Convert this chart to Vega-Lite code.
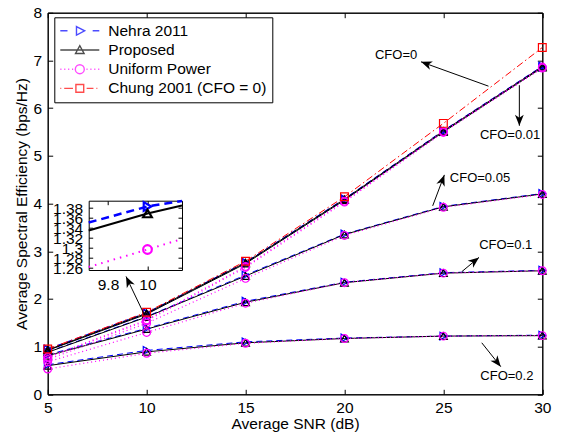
{
  "$schema": "https://vega.github.io/schema/vega-lite/v6.json",
  "width": 494.6,
  "height": 381.6,
  "autosize": "none",
  "padding": {"left": 47.7, "top": 12.7, "right": 18.7, "bottom": 43.7},
  "background": "white",
  "config": {
    "font": "Liberation Sans",
    "view": {"stroke": "black", "strokeWidth": 1},
    "axis": {
      "grid": false,
      "labelFont": "Liberation Sans",
      "titleFont": "Liberation Sans",
      "labelFontSize": 15.5,
      "titleFontSize": 15.5,
      "titleFontWeight": "normal",
      "labelColor": "black",
      "titleColor": "black",
      "domainColor": "black",
      "tickColor": "black",
      "tickSize": -5,
      "labelPadding": 11,
      "labelOverlap": false,
      "labelFlush": false
    }
  },
  "datasets": {
    "curves": [
      {"method": "Nehra 2011", "cfo": 0, "snr": 5, "se": 0.95},
      {"method": "Nehra 2011", "cfo": 0, "snr": 10, "se": 1.71},
      {"method": "Nehra 2011", "cfo": 0, "snr": 15, "se": 2.77},
      {"method": "Nehra 2011", "cfo": 0, "snr": 20, "se": 4.10},
      {"method": "Nehra 2011", "cfo": 0, "snr": 25, "se": 5.53},
      {"method": "Nehra 2011", "cfo": 0, "snr": 30, "se": 6.88},
      {"method": "Nehra 2011", "cfo": 0.01, "snr": 5, "se": 0.94},
      {"method": "Nehra 2011", "cfo": 0.01, "snr": 10, "se": 1.69},
      {"method": "Nehra 2011", "cfo": 0.01, "snr": 15, "se": 2.75},
      {"method": "Nehra 2011", "cfo": 0.01, "snr": 20, "se": 4.08},
      {"method": "Nehra 2011", "cfo": 0.01, "snr": 25, "se": 5.51},
      {"method": "Nehra 2011", "cfo": 0.01, "snr": 30, "se": 6.86},
      {"method": "Nehra 2011", "cfo": 0.05, "snr": 5, "se": 0.89},
      {"method": "Nehra 2011", "cfo": 0.05, "snr": 10, "se": 1.63},
      {"method": "Nehra 2011", "cfo": 0.05, "snr": 15, "se": 2.50},
      {"method": "Nehra 2011", "cfo": 0.05, "snr": 20, "se": 3.36},
      {"method": "Nehra 2011", "cfo": 0.05, "snr": 25, "se": 3.94},
      {"method": "Nehra 2011", "cfo": 0.05, "snr": 30, "se": 4.21},
      {"method": "Nehra 2011", "cfo": 0.1, "snr": 5, "se": 0.83},
      {"method": "Nehra 2011", "cfo": 0.1, "snr": 10, "se": 1.383},
      {"method": "Nehra 2011", "cfo": 0.1, "snr": 15, "se": 1.95},
      {"method": "Nehra 2011", "cfo": 0.1, "snr": 20, "se": 2.35},
      {"method": "Nehra 2011", "cfo": 0.1, "snr": 25, "se": 2.55},
      {"method": "Nehra 2011", "cfo": 0.1, "snr": 30, "se": 2.60},
      {"method": "Nehra 2011", "cfo": 0.2, "snr": 5, "se": 0.62},
      {"method": "Nehra 2011", "cfo": 0.2, "snr": 10, "se": 0.92},
      {"method": "Nehra 2011", "cfo": 0.2, "snr": 15, "se": 1.10},
      {"method": "Nehra 2011", "cfo": 0.2, "snr": 20, "se": 1.18},
      {"method": "Nehra 2011", "cfo": 0.2, "snr": 25, "se": 1.22},
      {"method": "Nehra 2011", "cfo": 0.2, "snr": 30, "se": 1.24},
      {"method": "Proposed", "cfo": 0, "snr": 5, "se": 0.93},
      {"method": "Proposed", "cfo": 0, "snr": 10, "se": 1.70},
      {"method": "Proposed", "cfo": 0, "snr": 15, "se": 2.76},
      {"method": "Proposed", "cfo": 0, "snr": 20, "se": 4.09},
      {"method": "Proposed", "cfo": 0, "snr": 25, "se": 5.52},
      {"method": "Proposed", "cfo": 0, "snr": 30, "se": 6.87},
      {"method": "Proposed", "cfo": 0.01, "snr": 5, "se": 0.92},
      {"method": "Proposed", "cfo": 0.01, "snr": 10, "se": 1.68},
      {"method": "Proposed", "cfo": 0.01, "snr": 15, "se": 2.74},
      {"method": "Proposed", "cfo": 0.01, "snr": 20, "se": 4.07},
      {"method": "Proposed", "cfo": 0.01, "snr": 25, "se": 5.50},
      {"method": "Proposed", "cfo": 0.01, "snr": 30, "se": 6.85},
      {"method": "Proposed", "cfo": 0.05, "snr": 5, "se": 0.88},
      {"method": "Proposed", "cfo": 0.05, "snr": 10, "se": 1.62},
      {"method": "Proposed", "cfo": 0.05, "snr": 15, "se": 2.48},
      {"method": "Proposed", "cfo": 0.05, "snr": 20, "se": 3.35},
      {"method": "Proposed", "cfo": 0.05, "snr": 25, "se": 3.93},
      {"method": "Proposed", "cfo": 0.05, "snr": 30, "se": 4.20},
      {"method": "Proposed", "cfo": 0.1, "snr": 5, "se": 0.81},
      {"method": "Proposed", "cfo": 0.1, "snr": 10, "se": 1.367},
      {"method": "Proposed", "cfo": 0.1, "snr": 15, "se": 1.93},
      {"method": "Proposed", "cfo": 0.1, "snr": 20, "se": 2.34},
      {"method": "Proposed", "cfo": 0.1, "snr": 25, "se": 2.54},
      {"method": "Proposed", "cfo": 0.1, "snr": 30, "se": 2.59},
      {"method": "Proposed", "cfo": 0.2, "snr": 5, "se": 0.60},
      {"method": "Proposed", "cfo": 0.2, "snr": 10, "se": 0.89},
      {"method": "Proposed", "cfo": 0.2, "snr": 15, "se": 1.08},
      {"method": "Proposed", "cfo": 0.2, "snr": 20, "se": 1.17},
      {"method": "Proposed", "cfo": 0.2, "snr": 25, "se": 1.22},
      {"method": "Proposed", "cfo": 0.2, "snr": 30, "se": 1.23},
      {"method": "Uniform Power", "cfo": 0, "snr": 5, "se": 0.78},
      {"method": "Uniform Power", "cfo": 0, "snr": 10, "se": 1.56},
      {"method": "Uniform Power", "cfo": 0, "snr": 15, "se": 2.68},
      {"method": "Uniform Power", "cfo": 0, "snr": 20, "se": 4.05},
      {"method": "Uniform Power", "cfo": 0, "snr": 25, "se": 5.51},
      {"method": "Uniform Power", "cfo": 0, "snr": 30, "se": 6.86},
      {"method": "Uniform Power", "cfo": 0.01, "snr": 5, "se": 0.77},
      {"method": "Uniform Power", "cfo": 0.01, "snr": 10, "se": 1.54},
      {"method": "Uniform Power", "cfo": 0.01, "snr": 15, "se": 2.66},
      {"method": "Uniform Power", "cfo": 0.01, "snr": 20, "se": 4.03},
      {"method": "Uniform Power", "cfo": 0.01, "snr": 25, "se": 5.49},
      {"method": "Uniform Power", "cfo": 0.01, "snr": 30, "se": 6.84},
      {"method": "Uniform Power", "cfo": 0.05, "snr": 5, "se": 0.73},
      {"method": "Uniform Power", "cfo": 0.05, "snr": 10, "se": 1.49},
      {"method": "Uniform Power", "cfo": 0.05, "snr": 15, "se": 2.43},
      {"method": "Uniform Power", "cfo": 0.05, "snr": 20, "se": 3.33},
      {"method": "Uniform Power", "cfo": 0.05, "snr": 25, "se": 3.92},
      {"method": "Uniform Power", "cfo": 0.05, "snr": 30, "se": 4.19},
      {"method": "Uniform Power", "cfo": 0.1, "snr": 5, "se": 0.68},
      {"method": "Uniform Power", "cfo": 0.1, "snr": 10, "se": 1.297},
      {"method": "Uniform Power", "cfo": 0.1, "snr": 15, "se": 1.91},
      {"method": "Uniform Power", "cfo": 0.1, "snr": 20, "se": 2.34},
      {"method": "Uniform Power", "cfo": 0.1, "snr": 25, "se": 2.54},
      {"method": "Uniform Power", "cfo": 0.1, "snr": 30, "se": 2.59},
      {"method": "Uniform Power", "cfo": 0.2, "snr": 5, "se": 0.53},
      {"method": "Uniform Power", "cfo": 0.2, "snr": 10, "se": 0.86},
      {"method": "Uniform Power", "cfo": 0.2, "snr": 15, "se": 1.07},
      {"method": "Uniform Power", "cfo": 0.2, "snr": 20, "se": 1.17},
      {"method": "Uniform Power", "cfo": 0.2, "snr": 25, "se": 1.22},
      {"method": "Uniform Power", "cfo": 0.2, "snr": 30, "se": 1.23},
      {"method": "Chung 2001 (CFO = 0)", "cfo": 0, "snr": 5, "se": 0.95},
      {"method": "Chung 2001 (CFO = 0)", "cfo": 0, "snr": 10, "se": 1.72},
      {"method": "Chung 2001 (CFO = 0)", "cfo": 0, "snr": 15, "se": 2.79},
      {"method": "Chung 2001 (CFO = 0)", "cfo": 0, "snr": 20, "se": 4.14},
      {"method": "Chung 2001 (CFO = 0)", "cfo": 0, "snr": 25, "se": 5.68},
      {"method": "Chung 2001 (CFO = 0)", "cfo": 0, "snr": 30, "se": 7.27}
    ],
    "inset": [
      {"method": "Nehra 2011", "snr": 9.702, "se": 1.351},
      {"method": "Nehra 2011", "snr": 10, "se": 1.383},
      {"method": "Nehra 2011", "snr": 10.175, "se": 1.394},
      {"method": "Proposed", "snr": 9.702, "se": 1.335},
      {"method": "Proposed", "snr": 10, "se": 1.369},
      {"method": "Proposed", "snr": 10.175, "se": 1.385},
      {"method": "Uniform Power", "snr": 9.702, "se": 1.262},
      {"method": "Uniform Power", "snr": 10, "se": 1.297},
      {"method": "Uniform Power", "snr": 10.175, "se": 1.318}
    ],
    "arrows": [
      {"from_snr": 27.28, "from_se": 6.46, "to_snr": 23.87, "to_se": 6.97, "angle": 289.6},
      {"from_snr": 28.84, "from_se": 6.48, "to_snr": 28.84, "to_se": 5.63, "angle": 180},
      {"from_snr": 24.46, "from_se": 3.95, "to_snr": 25.05, "to_se": 4.60, "angle": 20.5},
      {"from_snr": 25.93, "from_se": 2.57, "to_snr": 26.80, "to_se": 2.87, "angle": 51.8},
      {"from_snr": 26.94, "from_se": 1.08, "to_snr": 27.90, "to_se": 0.58, "angle": 141.6},
      {"from_snr": 9.87, "from_se": 1.68, "to_snr": 8.96, "to_se": 2.47, "angle": 334.4}
    ],
    "labels": [
      {"text": "CFO=0", "snr": 22.61, "se": 7.11},
      {"text": "CFO=0.01", "snr": 28.37, "se": 5.44},
      {"text": "CFO=0.05", "snr": 26.85, "se": 4.53},
      {"text": "CFO=0.1", "snr": 28.15, "se": 3.13},
      {"text": "CFO=0.2", "snr": 28.21, "se": 0.38}
    ]
  },
  "layer": [
    {
      "data": {"name": "curves"},
      "layer": [
        {
          "transform": [{"filter": "datum.method === 'Nehra 2011'"}],
          "mark": {"type": "line", "color": "#0000ff", "strokeDash": [6, 4], "strokeWidth": 1},
          "encoding": {
            "x": {"field": "snr", "type": "quantitative", "scale": {"domain": [5, 30], "nice": false, "zero": false},
                  "axis": {"orient": "bottom", "title": "Average SNR (dB)", "values": [5, 10, 15, 20, 25, 30], "titlePadding": 1}},
            "y": {"field": "se", "type": "quantitative", "scale": {"domain": [0, 8], "nice": false, "zero": false},
                  "axis": {"orient": "left", "title": "Average Spectral Efficiency (bps/Hz)", "values": [0, 1, 2, 3, 4, 5, 6, 7, 8], "titlePadding": 4}},
            "detail": {"field": "cfo", "type": "nominal"}
          }
        },
        {
          "transform": [{"filter": "datum.method === 'Proposed'"}],
          "mark": {"type": "line", "color": "black", "strokeWidth": 1},
          "encoding": {
            "x": {"field": "snr", "type": "quantitative", "axis": null},
            "y": {"field": "se", "type": "quantitative", "axis": null},
            "detail": {"field": "cfo", "type": "nominal"}
          }
        },
        {
          "transform": [{"filter": "datum.method === 'Uniform Power'"}],
          "mark": {"type": "line", "color": "#ff00ff", "strokeDash": [1, 3], "strokeWidth": 1.2},
          "encoding": {
            "x": {"field": "snr", "type": "quantitative", "axis": null},
            "y": {"field": "se", "type": "quantitative", "axis": null},
            "detail": {"field": "cfo", "type": "nominal"}
          }
        },
        {
          "transform": [{"filter": "datum.method === 'Chung 2001 (CFO = 0)'"}],
          "mark": {"type": "line", "color": "#ff0000", "strokeDash": [7, 3, 1.5, 3], "strokeWidth": 1},
          "encoding": {
            "x": {"field": "snr", "type": "quantitative", "axis": null},
            "y": {"field": "se", "type": "quantitative", "axis": null},
            "detail": {"field": "cfo", "type": "nominal"}
          }
        },
        {
          "mark": {"type": "point", "filled": false, "size": 60, "strokeWidth": 1.2, "opacity": 1},
          "encoding": {
            "x": {"field": "snr", "type": "quantitative", "axis": {"orient": "top", "labels": false, "title": null, "values": [5, 10, 15, 20, 25, 30]}},
            "y": {"field": "se", "type": "quantitative", "axis": {"orient": "right", "labels": false, "title": null, "values": [0, 1, 2, 3, 4, 5, 6, 7, 8]}},
            "color": {"field": "method", "type": "nominal", "legend": null,
                      "scale": {"domain": ["Nehra 2011", "Proposed", "Uniform Power", "Chung 2001 (CFO = 0)"], "range": ["#0000ff", "black", "#ff00ff", "#ff0000"]}},
            "shape": {"field": "method", "type": "nominal", "legend": null,
                      "scale": {"domain": ["Nehra 2011", "Proposed", "Uniform Power", "Chung 2001 (CFO = 0)"], "range": ["triangle-right", "triangle-up", "circle", "square"]}}
          }
        },
        {
          "data": {"name": "arrows"},
          "mark": {"type": "rule", "color": "black", "strokeWidth": 1},
          "encoding": {
            "x": {"field": "from_snr", "type": "quantitative", "axis": null},
            "y": {"field": "from_se", "type": "quantitative", "axis": null},
            "x2": {"field": "to_snr"},
            "y2": {"field": "to_se"}
          }
        },
        {
          "data": {"name": "arrows"},
          "mark": {"type": "point", "shape": "M0,0L0.4,1L0,0.72L-0.4,1Z", "filled": true, "color": "black", "size": 484, "opacity": 1},
          "encoding": {
            "x": {"field": "to_snr", "type": "quantitative", "axis": null},
            "y": {"field": "to_se", "type": "quantitative", "axis": null},
            "angle": {"field": "angle", "type": "quantitative", "scale": null}
          }
        },
        {
          "data": {"name": "labels"},
          "mark": {"type": "text", "font": "Liberation Sans", "fontSize": 13, "align": "center", "baseline": "middle", "color": "black"},
          "encoding": {
            "x": {"field": "snr", "type": "quantitative", "axis": null},
            "y": {"field": "se", "type": "quantitative", "axis": null},
            "text": {"field": "text"}
          }
        }
      ]
    },
    {
      "data": {"name": "inset"},
      "layer": [
        {
          "transform": [{"filter": "datum.method === 'Nehra 2011'"}],
          "mark": {"type": "line", "color": "#0000ff", "strokeDash": [8, 5], "strokeWidth": 2.5},
          "encoding": {
            "x": {"field": "snr", "type": "quantitative",
                  "scale": {"domain": [9.702, 10.175], "range": [41, 134.3], "nice": false, "zero": false},
                  "axis": {"orient": "bottom", "offset": -124.3, "values": [9.8, 10], "format": "~g", "title": null, "tickSize": -4, "labelPadding": 11}},
            "y": {"field": "se", "type": "quantitative",
                  "scale": {"domain": [1.256, 1.3946], "range": [257.3, 188], "nice": false, "zero": false},
                  "axis": {"orient": "left", "offset": -41, "values": [1.26, 1.28, 1.3, 1.32, 1.34, 1.36, 1.38], "format": "~g", "title": null, "tickSize": -4, "labelPadding": 10}}
          }
        },
        {
          "transform": [{"filter": "datum.method === 'Proposed'"}],
          "mark": {"type": "line", "color": "black", "strokeWidth": 2},
          "encoding": {
            "x": {"field": "snr", "type": "quantitative", "axis": {"orient": "top", "offset": -188, "values": [9.8, 10], "labels": false, "title": null, "tickSize": -4}},
            "y": {"field": "se", "type": "quantitative", "axis": {"orient": "right", "offset": -360.3, "values": [1.26, 1.28, 1.3, 1.32, 1.34, 1.36, 1.38], "labels": false, "title": null, "tickSize": -4}}
          }
        },
        {
          "transform": [{"filter": "datum.method === 'Uniform Power'"}],
          "mark": {"type": "line", "color": "#ff00ff", "strokeDash": [1.5, 5], "strokeWidth": 2},
          "encoding": {
            "x": {"field": "snr", "type": "quantitative", "axis": null},
            "y": {"field": "se", "type": "quantitative", "axis": null}
          }
        },
        {
          "transform": [{"filter": "datum.snr === 10"}],
          "mark": {"type": "point", "filled": false, "size": 75, "strokeWidth": 2.2, "opacity": 1},
          "encoding": {
            "x": {"field": "snr", "type": "quantitative", "axis": null},
            "y": {"field": "se", "type": "quantitative", "axis": null},
            "color": {"field": "method", "type": "nominal", "legend": null,
                      "scale": {"domain": ["Nehra 2011", "Proposed", "Uniform Power"], "range": ["#0000ff", "black", "#ff00ff"]}},
            "shape": {"field": "method", "type": "nominal", "legend": null,
                      "scale": {"domain": ["Nehra 2011", "Proposed", "Uniform Power"], "range": ["triangle-right", "triangle-up", "circle"]}}
          }
        }
      ]
    },
    {
      "data": {"name": "curves"},
      "transform": [{"filter": "datum.snr < 0"}],
      "mark": {"type": "point", "filled": false},
      "encoding": {
        "color": {"field": "method", "type": "nominal",
                  "scale": {"domain": ["Nehra 2011", "Proposed", "Uniform Power", "Chung 2001 (CFO = 0)"], "range": ["#0000ff", "black", "#ff00ff", "#ff0000"]},
                  "legend": {"orient": "none", "legendX": 6.6, "legendY": 4.6, "title": null, "direction": "vertical",
                             "strokeColor": "black", "fillColor": "white", "padding": 5, "cornerRadius": 0,
                             "symbolSize": 1521, "symbolStrokeWidth": 1.4, "clipHeight": 17, "rowPadding": 2.2,
                             "labelFont": "Liberation Sans", "labelFontSize": 15.5, "labelColor": "black", "labelOffset": 8, "labelLimit": 400}},
        "shape": {"field": "method", "type": "nominal",
                  "scale": {"domain": ["Nehra 2011", "Proposed", "Uniform Power", "Chung 2001 (CFO = 0)"],
                            "range": [
                              "M-1,0H-0.63M0.66,0H1M-0.17,-0.22L0.25,0L-0.17,0.22Z",
                              "M-1,0H1M-0.22,0.18L0,-0.22L0.22,0.18Z",
                              "M-1,0h0.06M-0.8,0h0.06M-0.6,0h0.06M-0.4,0h0.06M0.34,0h0.06M0.54,0h0.06M0.74,0h0.06M0.94,0h0.06M-0.23,0A0.23,0.23 0 1,0 0.23,0A0.23,0.23 0 1,0 -0.23,0Z",
                              "M-1,0H-0.95M-0.8,0H-0.35M0.35,0H0.7M0.85,0H0.9M-0.2,-0.2H0.2V0.2H-0.2Z"
                            ]},
                  "legend": {"orient": "none", "legendX": 6.6, "legendY": 4.6, "title": null, "direction": "vertical",
                             "strokeColor": "black", "fillColor": "white", "padding": 5, "cornerRadius": 0,
                             "symbolSize": 1521, "symbolStrokeWidth": 1.4, "clipHeight": 17, "rowPadding": 2.2,
                             "labelFont": "Liberation Sans", "labelFontSize": 15.5, "labelColor": "black", "labelOffset": 8, "labelLimit": 400}}
      }
    }
  ],
  "resolve": {"scale": {"x": "independent", "y": "independent", "color": "independent", "shape": "independent"}}
}
